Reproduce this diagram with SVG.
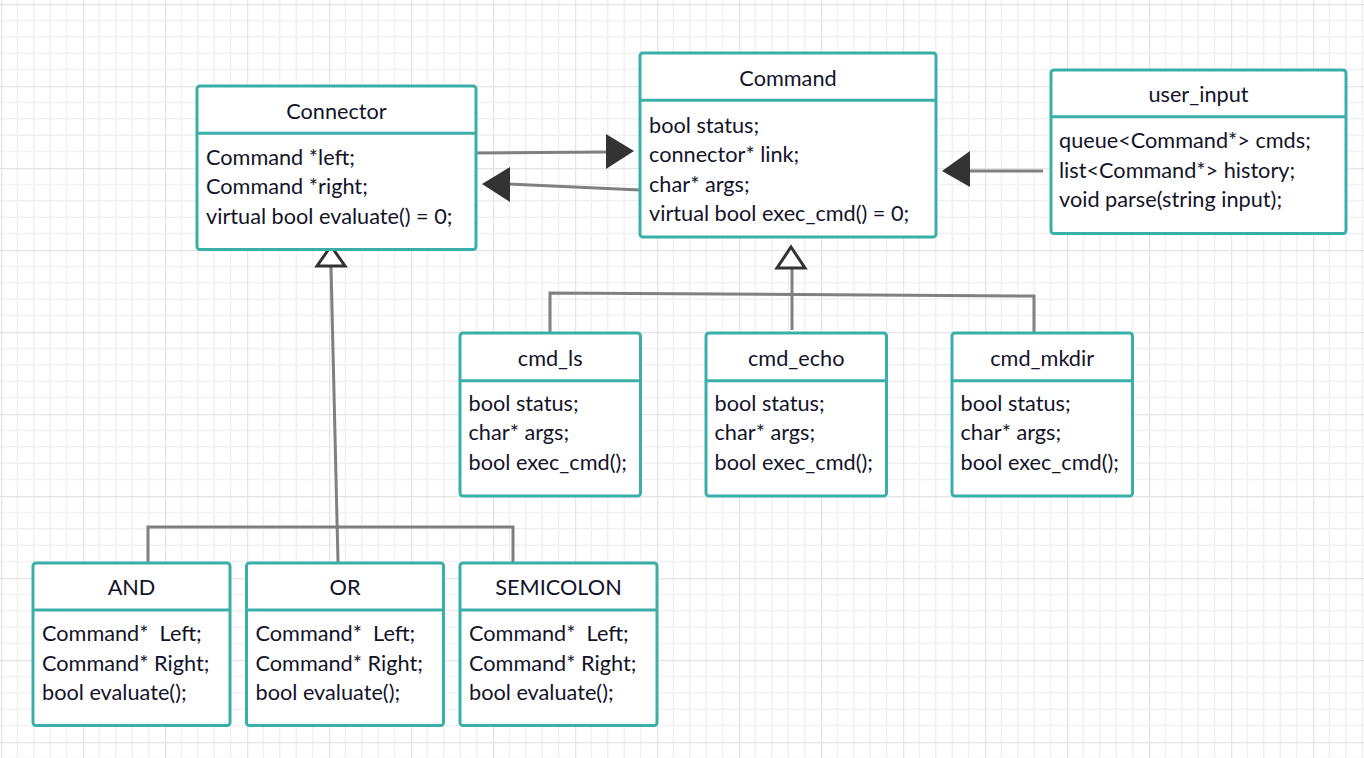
<svg xmlns="http://www.w3.org/2000/svg" width="1364" height="758" viewBox="0 0 1364 758">
<style>
.box{fill:#ffffff;stroke:#3aafa9;stroke-width:3}
.div{stroke:#3aafa9;stroke-width:3}
.t{font-family:Lato,"Open Sans","Liberation Sans",sans-serif;font-size:21.7px;fill:#131329}
.c{text-anchor:middle}
.ln{fill:none;stroke:#808080;stroke-width:3}
.ah{fill:#333333;stroke:none}
.inh{fill:#ffffff;stroke:#333333;stroke-width:3;stroke-linejoin:miter}
</style>
<defs>
<pattern id="grid" patternUnits="userSpaceOnUse" x="1" y="4" width="82" height="82">
<path d="M16.4 0V82M32.8 0V82M49.2 0V82M65.6 0V82M0 16.4H82M0 32.8H82M0 49.2H82M0 65.6H82" stroke="#f1f1f1" stroke-width="1.5" fill="none"/>
<path d="M0 0V82M0 0H82" stroke="#e4e4e4" stroke-width="2.5" fill="none"/>
</pattern>
</defs>
<rect width="1364" height="758" fill="#ffffff"/>
<rect width="1364" height="758" fill="url(#grid)"/>

<g id="connectors">
<line class="ln" x1="476" y1="153" x2="610" y2="152"/>
<polygon class="ah" points="606,134 634,151 606,169"/>
<line class="ln" x1="640" y1="190" x2="506" y2="184"/>
<polygon class="ah" points="510,167 482,184 510,202"/>
<line class="ln" x1="1043" y1="171" x2="968" y2="171"/>
<polygon class="ah" points="970,151 942,171 970,187"/>
<polyline class="ln" points="550,332 550,293 1034,296 1034,332"/>
<line class="ln" x1="792" y1="267" x2="792" y2="330"/>
<polygon class="inh" points="791,247 805,268 777,268"/>
<polyline class="ln" points="148,562 148,527 513,527 513,562"/>
<line class="ln" x1="331" y1="266" x2="338" y2="562"/>
<polygon class="inh" points="331,246 345,266 317,266"/>
</g>

<g id="Connector">
<rect class="box" x="197" y="86" width="279" height="163.5" rx="3"/>
<line class="div" x1="197" y1="133.3" x2="476" y2="133.3"/>
<text class="t c" x="336.5" y="119">Connector</text>
<text class="t" x="206" y="164.5">Command *left;</text>
<text class="t" x="206" y="194">Command *right;</text>
<text class="t" x="206" y="223.5">virtual bool evaluate() = 0;</text>
</g>

<g id="Command">
<rect class="box" x="640" y="53" width="296" height="184" rx="3"/>
<line class="div" x1="640" y1="100.3" x2="936" y2="100.3"/>
<text class="t c" x="788" y="85.7">Command</text>
<text class="t" x="649" y="132.5">bool status;</text>
<text class="t" x="649" y="162">connector* link;</text>
<text class="t" x="649" y="191.5">char* args;</text>
<text class="t" x="649" y="221">virtual bool exec_cmd() = 0;</text>
</g>

<g id="user_input">
<rect class="box" x="1051" y="70" width="295" height="163.5" rx="3"/>
<line class="div" x1="1051" y1="116.7" x2="1346" y2="116.7"/>
<text class="t c" x="1198.5" y="101.7">user_input</text>
<text class="t" x="1059" y="148.2">queue&lt;Command*&gt; cmds;</text>
<text class="t" x="1059" y="177.7">list&lt;Command*&gt; history;</text>
<text class="t" x="1059" y="207.2">void parse(string input);</text>
</g>

<g id="cmd_ls">
<rect class="box" x="460" y="333" width="180.5" height="163" rx="3"/>
<line class="div" x1="460" y1="380.7" x2="640.5" y2="380.7"/>
<text class="t c" x="550.2" y="365.5">cmd_ls</text>
<text class="t" x="468.5" y="410.7">bool status;</text>
<text class="t" x="468.5" y="440.2">char* args;</text>
<text class="t" x="468.5" y="469.7">bool exec_cmd();</text>
</g>

<g id="cmd_echo">
<rect class="box" x="706" y="333" width="180.5" height="163" rx="3"/>
<line class="div" x1="706" y1="380.7" x2="886.5" y2="380.7"/>
<text class="t c" x="796.2" y="365.5">cmd_echo</text>
<text class="t" x="714.5" y="410.7">bool status;</text>
<text class="t" x="714.5" y="440.2">char* args;</text>
<text class="t" x="714.5" y="469.7">bool exec_cmd();</text>
</g>

<g id="cmd_mkdir">
<rect class="box" x="952" y="333" width="180.5" height="163" rx="3"/>
<line class="div" x1="952" y1="380.7" x2="1132.5" y2="380.7"/>
<text class="t c" x="1042.2" y="365.5">cmd_mkdir</text>
<text class="t" x="960.5" y="410.7">bool status;</text>
<text class="t" x="960.5" y="440.2">char* args;</text>
<text class="t" x="960.5" y="469.7">bool exec_cmd();</text>
</g>

<g id="AND">
<rect class="box" x="33" y="563" width="197" height="162.5" rx="3"/>
<line class="div" x1="33" y1="610" x2="230" y2="610"/>
<text class="t c" x="131.5" y="595">AND</text>
<text class="t" x="42" y="641" xml:space="preserve">Command*  Left;</text>
<text class="t" x="42" y="670.5">Command* Right;</text>
<text class="t" x="42" y="700">bool evaluate();</text>
</g>

<g id="OR">
<rect class="box" x="246.5" y="563" width="197" height="162.5" rx="3"/>
<line class="div" x1="246.5" y1="610" x2="443.5" y2="610"/>
<text class="t c" x="345" y="595">OR</text>
<text class="t" x="255.5" y="641" xml:space="preserve">Command*  Left;</text>
<text class="t" x="255.5" y="670.5">Command* Right;</text>
<text class="t" x="255.5" y="700">bool evaluate();</text>
</g>

<g id="SEMICOLON">
<rect class="box" x="460" y="563" width="197" height="162.5" rx="3"/>
<line class="div" x1="460" y1="610" x2="657" y2="610"/>
<text class="t c" x="558.5" y="595">SEMICOLON</text>
<text class="t" x="469" y="641" xml:space="preserve">Command*  Left;</text>
<text class="t" x="469" y="670.5">Command* Right;</text>
<text class="t" x="469" y="700">bool evaluate();</text>
</g>
</svg>
